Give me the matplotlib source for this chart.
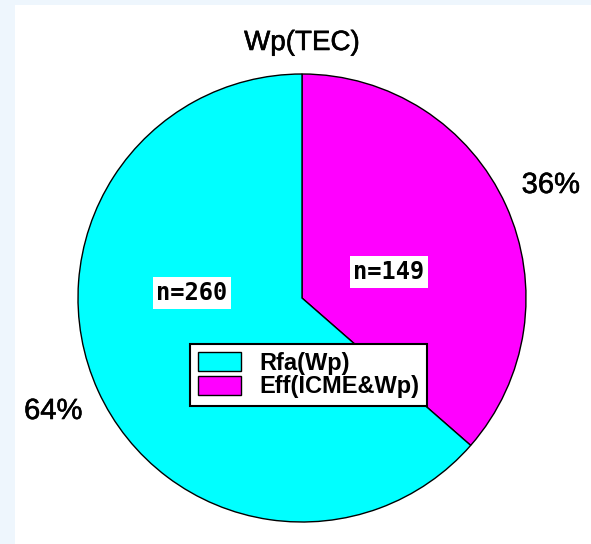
import matplotlib
matplotlib.use("Agg")
import matplotlib.pyplot as plt
import matplotlib.patheffects as pe
from matplotlib.patches import Rectangle, Patch

# event counts per class
labels = ["Rfa(Wp)", "Eff(ICME&Wp)"]
counts = [260, 149]
colors = ["#00ffff", "#ff00ff"]
title = "Wp(TEC)"

plt.rcParams["font.family"] = ["Liberation Sans", "DejaVu Sans"]

W, H = 591, 544
fig = plt.figure(figsize=(W / 100, H / 100), dpi=100)
fig.patch.set_facecolor("#eef6fd")
# white page area inside the light blue border
fig.add_artist(Rectangle((15 / W, 0), 1 - 15 / W, 1 - 5 / H,
                         transform=fig.transFigure, facecolor="white",
                         edgecolor="none", zorder=0))

ax = fig.add_axes([0, 0, 1, 1])

cx, cy, r = 302, H - 298, 224
heavy = [pe.withStroke(linewidth=0.4, foreground="black")]

# magenta slice first, going clockwise from the top
wedges, texts, autotexts = ax.pie(
    counts[::-1], colors=colors[::-1], startangle=90, counterclock=False,
    center=(cx, cy), radius=r, autopct="%1.0f%%", pctdistance=1.22,
    wedgeprops=dict(edgecolor="black", linewidth=1.0),
    textprops=dict(fontsize=21, color="black", path_effects=heavy), frame=True)
ax.set_xlim(0, W)
ax.set_ylim(0, H)
ax.set_aspect("equal")
ax.axis("off")

# sample size boxes
nbox = dict(boxstyle="square,pad=0.15", facecolor="white", edgecolor="none")
ax.text(192, H - 293, "n=%d" % counts[0], ha="center", va="center",
        fontsize=17, fontweight="bold", family="DejaVu Sans Mono", bbox=nbox)
ax.text(389, H - 272, "n=%d" % counts[1], ha="center", va="center",
        fontsize=17, fontweight="bold", family="DejaVu Sans Mono", bbox=nbox)

ax.text(cx, H - 43, title, ha="center", va="center", fontsize=20,
        path_effects=heavy)

handles = [Patch(facecolor=c, edgecolor="black", linewidth=1.0) for c in colors]
leg = ax.legend(handles, labels, loc="upper left",
                bbox_to_anchor=(190 / W, 1 - 344 / H),
                bbox_transform=fig.transFigure, fancybox=False,
                edgecolor="black", framealpha=1, borderaxespad=0,
                prop=dict(size=17, weight="bold"),
                handlelength=1.85, handleheight=0.85, borderpad=0.33,
                labelspacing=0.02, handletextpad=0.75)
leg.get_frame().set_linewidth(1.5)

fig.savefig("out.png", dpi=100, facecolor=fig.get_facecolor())
